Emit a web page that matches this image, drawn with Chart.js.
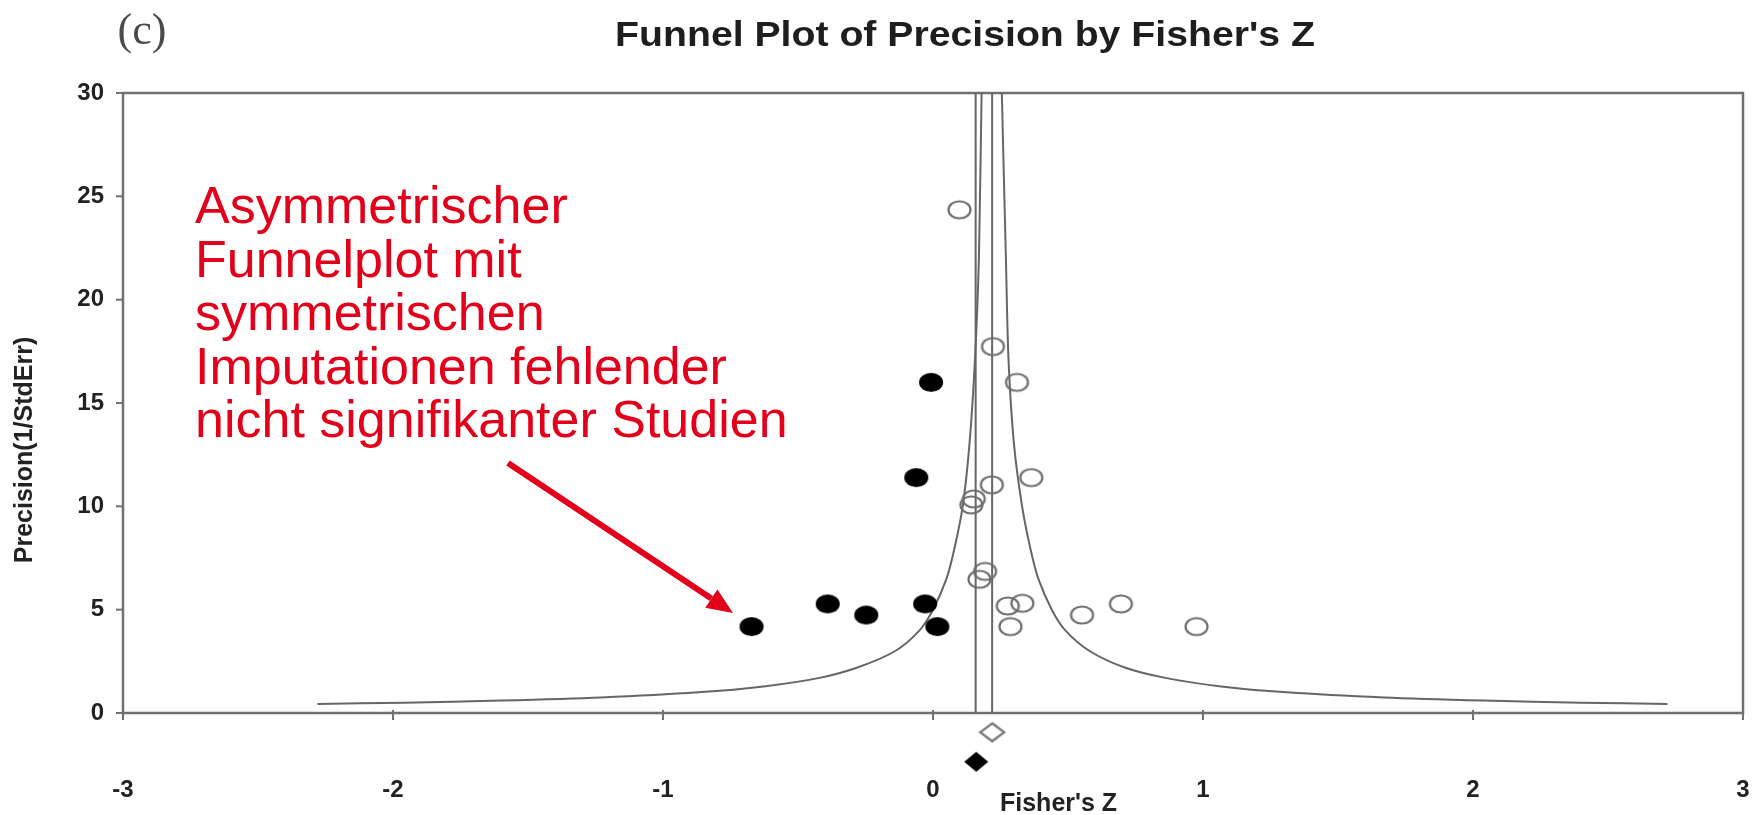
<!DOCTYPE html>
<html>
<head>
<meta charset="utf-8">
<script src="https://cdn.jsdelivr.net/npm/chart.js@4.4.1/dist/chart.umd.min.js"></script>
<style>
  html, body { margin: 0; padding: 0; background: #fff; }
</style>
</head>
<body>
<canvas id="funnel" width="1760" height="815"></canvas>
<script>
// ---- data ----
// observed studies (open circles)
const obsZ    = [0.098, 0.222, 0.311, 0.364, 0.218, 0.151, 0.142, 0.193, 0.172, 0.277, 0.331, 0.287, 0.552, 0.696, 0.976];
const obsPrec = [24.35, 17.73, 16.0, 11.39, 11.04, 10.36, 10.07, 6.85, 6.47, 5.18, 5.31, 4.18, 4.74, 5.28, 4.18];
// imputed studies (filled circles)
const impZ    = [-0.672, -0.390, -0.247, -0.029, 0.016, -0.007, -0.062];
const impPrec = [4.18, 5.28, 4.74, 5.28, 4.18, 16.0, 11.39];
// summary diamonds: observed (open), adjusted (filled)
const sumZ = [0.219, 0.160];
const sumY = [-0.93, -2.36];
// vertical mean lines
const meanZ = [0.158, 0.219];
// funnel limits
const funnelPrec  = [0.44, 0.5, 0.6, 0.75, 1.0, 1.3, 1.7, 2.2, 3.0, 4.0, 5.0, 6.5, 8.0, 10.0, 13.0, 17.0, 22.0, 30.0, 32.0];
const funnelLeft  = [-2.28, -1.96, -1.60, -1.23, -0.87, -0.62, -0.42, -0.28, -0.14, -0.05, 0.00, 0.05, 0.08, 0.11, 0.135, 0.155, 0.17, 0.18, 0.185];
const funnelRight = [2.72, 2.40, 2.04, 1.67, 1.31, 1.06, 0.86, 0.71, 0.58, 0.49, 0.44, 0.39, 0.36, 0.33, 0.30, 0.28, 0.27, 0.255, 0.253];
// ticks
const xTicks = [-3, -2, -1, 0, 1, 2, 3];
const yTicks = [0, 5, 10, 15, 20, 25, 30];

const noteLines = ['Asymmetrischer', 'Funnelplot mit', 'symmetrischen', 'Imputationen fehlender', 'nicht signifikanter Studien'];

const AXIS_GREY = '#707070';
const FONT = '"Liberation Sans", Arial, sans-serif';

// marker images (the circles are slightly wider than tall)
function ellipseMarker(rx, ry, fill, stroke, lw) {
  const c = document.createElement('canvas');
  c.width = Math.ceil(2 * rx + lw + 2);
  c.height = Math.ceil(2 * ry + lw + 2);
  const g = c.getContext('2d');
  g.beginPath();
  g.ellipse(c.width / 2, c.height / 2, rx, ry, 0, 0, Math.PI * 2);
  if (fill) { g.fillStyle = fill; g.fill(); }
  if (stroke) { g.strokeStyle = stroke; g.lineWidth = lw; g.stroke(); }
  return c;
}
function diamondMarker(hw, hh, fill, stroke, lw) {
  const c = document.createElement('canvas');
  c.width = Math.ceil(2 * hw + lw + 2);
  c.height = Math.ceil(2 * hh + lw + 2);
  const g = c.getContext('2d');
  const cx = c.width / 2, cy = c.height / 2;
  g.beginPath();
  g.moveTo(cx, cy - hh); g.lineTo(cx + hw, cy); g.lineTo(cx, cy + hh); g.lineTo(cx - hw, cy); g.closePath();
  if (fill) { g.fillStyle = fill; g.fill(); }
  if (stroke) { g.strokeStyle = stroke; g.lineWidth = lw; g.stroke(); }
  return c;
}

const openDot = ellipseMarker(11, 8.5, null, '#6e6e6e', 2.2);
const fullDot = ellipseMarker(12, 9.5, '#000', null, 0);
const openDia = diamondMarker(12, 9, null, '#777', 2.2);
const fullDia = diamondMarker(12, 10, '#000', null, 0);

const pts = (xs, ys) => xs.map((v, i) => ({ x: v, y: ys[i] }));

const lineDs = (data) => ({
  type: 'scatter', data, showLine: true, pointRadius: 0,
  borderColor: '#666', borderWidth: 2, tension: 0.3, fill: false
});

// axes box, ticks, titles and the red note
const frame = {
  id: 'frame',
  beforeDatasetsDraw(chart) {
    const { ctx, scales: { x, y } } = chart;
    const l = x.getPixelForValue(-3), r = x.getPixelForValue(3);
    const t = y.getPixelForValue(30), b = y.getPixelForValue(0);
    ctx.save();
    ctx.strokeStyle = AXIS_GREY;
    ctx.lineWidth = 2.5;
    ctx.strokeRect(l, t, r - l, b - t);
    ctx.lineWidth = 2;
    yTicks.forEach(v => {
      const py = y.getPixelForValue(v);
      ctx.beginPath(); ctx.moveTo(l - 7, py); ctx.lineTo(l, py); ctx.stroke();
    });
    xTicks.forEach(v => {
      const px = x.getPixelForValue(v);
      ctx.beginPath(); ctx.moveTo(px, b - 3); ctx.lineTo(px, b + 7); ctx.stroke();
    });
    ctx.restore();
  },
  afterDraw(chart) {
    const { ctx } = chart;
    ctx.save();
    // panel letter
    ctx.fillStyle = '#4a4a4a';
    ctx.font = '44px "Liberation Serif", "Times New Roman", serif';
    ctx.textAlign = 'center';
    ctx.textBaseline = 'alphabetic';
    ctx.fillText('(c)', 142, 44);
    // title
    ctx.fillStyle = '#1e1e1e';
    ctx.font = 'bold 35px ' + FONT;
    ctx.save();
    ctx.translate(965, 46);
    ctx.scale(1.12, 1);
    ctx.fillText("Funnel Plot of Precision by Fisher's Z", 0, 0);
    ctx.restore();
    // axis titles
    ctx.fillStyle = '#222';
    ctx.font = 'bold 25px ' + FONT;
    ctx.textAlign = 'left';
    ctx.fillText("Fisher's Z", 1000, 811);
    ctx.save();
    ctx.translate(25, 450);
    ctx.rotate(-Math.PI / 2);
    ctx.textAlign = 'center';
    ctx.textBaseline = 'middle';
    ctx.fillText('Precision(1/StdErr)', 0, 0);
    ctx.restore();
    // red note
    ctx.fillStyle = '#e2001a';
    ctx.font = '52px ' + FONT;
    ctx.textAlign = 'left';
    noteLines.forEach((s, i) => ctx.fillText(s, 195, 223 + i * 53.5));
    // arrow
    const x0 = 508, y0 = 463, x1 = 733, y1 = 613;
    const ang = Math.atan2(y1 - y0, x1 - x0);
    const head = 26, hw = 11;
    const bx = x1 - head * Math.cos(ang), by = y1 - head * Math.sin(ang);
    ctx.strokeStyle = '#e2001a';
    ctx.lineWidth = 6;
    ctx.beginPath(); ctx.moveTo(x0, y0); ctx.lineTo(bx, by); ctx.stroke();
    ctx.beginPath();
    ctx.moveTo(x1, y1);
    ctx.lineTo(bx + hw * Math.sin(ang), by - hw * Math.cos(ang));
    ctx.lineTo(bx - hw * Math.sin(ang), by + hw * Math.cos(ang));
    ctx.closePath();
    ctx.fill();
    ctx.restore();
  }
};

new Chart(document.getElementById('funnel'), {
  type: 'scatter',
  data: {
    datasets: [
      { label: 'observed', data: pts(obsZ, obsPrec), pointStyle: openDot, pointRadius: 10, pointHoverRadius: 10 },
      { label: 'imputed', data: pts(impZ, impPrec), pointStyle: fullDot, pointRadius: 10, pointHoverRadius: 10 },
      { label: 'observed summary', data: [{ x: sumZ[0], y: sumY[0] }], pointStyle: openDia, pointRadius: 10 },
      { label: 'adjusted summary', data: [{ x: sumZ[1], y: sumY[1] }], pointStyle: fullDia, pointRadius: 10 },
      lineDs([{ x: meanZ[0], y: 0 }, { x: meanZ[0], y: 30 }]),
      lineDs([{ x: meanZ[1], y: 0 }, { x: meanZ[1], y: 30 }]),
      lineDs(pts(funnelLeft, funnelPrec)),
      lineDs(pts(funnelRight, funnelPrec))
    ]
  },
  options: {
    responsive: false,
    animation: false,
    devicePixelRatio: 1,
    layout: { padding: { top: 93, right: 17, left: 0, bottom: 0 } },
    plugins: { legend: { display: false }, tooltip: { enabled: false } },
    scales: {
      x: {
        type: 'linear', min: -3, max: 3,
        afterBuildTicks: s => { s.ticks = xTicks.map(v => ({ value: v })); },
        afterFit: s => { s.height = 40; },
        grid: { display: false }, border: { display: false },
        ticks: { color: '#222', font: { family: FONT, size: 24, weight: 'bold' }, padding: -7, maxRotation: 0, autoSkip: false }
      },
      y: {
        type: 'linear', min: -3, max: 30,
        afterBuildTicks: s => { s.ticks = yTicks.map(v => ({ value: v })); },
        afterFit: s => { s.width = 123; },
        grid: { display: false }, border: { display: false },
        ticks: { color: '#222', font: { family: FONT, size: 24, weight: 'bold' }, padding: 11 }
      }
    }
  },
  plugins: [frame]
});
</script>
</body>
</html>
